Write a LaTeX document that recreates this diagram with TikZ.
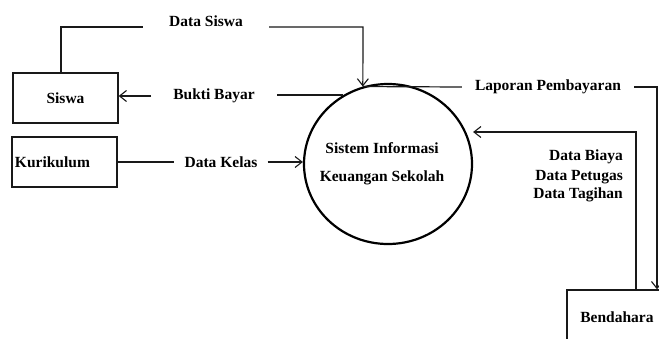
\documentclass[tikz,border=0pt]{standalone}
\usepackage{fontspec}
\setmainfont{Liberation Serif}
\usetikzlibrary{arrows.meta,shapes.geometric}
\begin{document}
\begin{tikzpicture}[x=1pt,y=-1pt,
  txt/.style={font=\bfseries\fontsize{15.5}{18}\selectfont, text=black},
  lbl/.style={txt, inner ysep=0pt},
  entity/.style={txt, draw=black!90, line width=1.3pt, minimum width=105pt, minimum height=50pt, inner sep=0pt},
  seg/.style={draw=black!90, line width=1.2pt},
  conn/.style={seg, -{Straight Barb[length=7pt,width=11pt,line width=1.1pt]}}]
\useasboundingbox (0,0) rectangle (659,338);
\clip (0,0) rectangle (659,338);
% entities
\node[entity] (siswa) at (65.5,98) {Siswa};
\node[entity, text width=99pt, align=left, inner xsep=3pt] (kur) at (64.5,162) {Kurikulum};
\node[entity, minimum width=100pt, minimum height=54pt] (bend) at (617,317) {Bendahara};
% process
\node[ellipse, draw=black, line width=2.2pt, minimum width=168pt, minimum height=160pt, inner sep=0pt] (proc) at (388,164) {};
\node[txt, align=center, font=\bfseries\fontsize{15.5}{28}\selectfont] (proctext) at (382,164) {Sistem Informasi\\Keuangan Sekolah};
% labels
\node[lbl, inner xsep=26pt] (ds) at (206,21) {Data Siswa};
\node[lbl, inner xsep=22pt] (bb) at (214,96) {Bukti Bayar};
\node[lbl, inner xsep=10pt] (dk) at (221,162) {Data Kelas};
\node[lbl, inner xsep=13pt] (lp) at (548,87) {Laporan Pembayaran};
\node[txt, align=right, anchor=east, inner sep=0pt, font=\bfseries\fontsize{15.5}{18}\selectfont] (dbt) at (623,176) {Data Biaya\\[2pt]Data Petugas\\Data Tagihan};
% coordinates of bends
\coordinate (c1) at (61,27);
\coordinate (c2) at (363,27);
\coordinate (c3) at (657,87);
\coordinate (c4) at (636,132);
% Data Siswa
\draw[seg] (siswa.north -| c1) -- (c1) -- (c1 -| ds.west);
\draw[conn] (ds.east |- c1) -- (c2) -- (proc.108);
% Bukti Bayar
\draw[seg] (proc.123) -- (proc.123 -| bb.east);
\draw[conn] (bb.west) -- (bb.west -| siswa.east);
% Data Kelas
\draw[seg] (kur.east) -- (dk.west);
\draw[conn] (dk.east) -- (dk.east -| proc.west);
% Laporan Pembayaran
\draw[seg] (proc.108) -- (lp.west);
\draw[conn] (lp.east) -- (c3) -- (bend.north -| c3);
% Data Biaya / Petugas / Tagihan
\draw[conn] (bend.north -| c4) -- (c4) -- (c4 -| proc.east);
\end{tikzpicture}
\end{document}
